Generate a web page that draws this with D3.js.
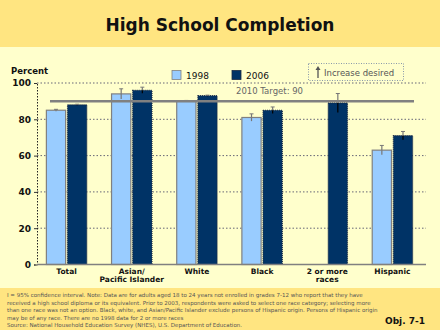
<!DOCTYPE html>
<html><head><meta charset="utf-8">
<script src="https://cdn.jsdelivr.net/npm/d3@7"></script>
<style>body{margin:0;padding:0;background:#FFFFCC}svg{display:block}</style>
</head><body>
<svg id="c" width="440" height="330"></svg>
<script>
const categories = ["Total", "Asian/\nPacific Islander", "White", "Black", "2 or more\nraces", "Hispanic"];
const series = ["1998", "2006"];
const values1998 = [85, 94, 90, 81, null, 63];
const values2006 = [88, 96, 93, 85, 89, 71];
const ci1998 = [0.5, 2.8, 0.4, 2.0, null, 2.6];
const ci2006 = [0.3, 1.7, 0.3, 1.8, 5.2, 2.3];
const yTicks = [0, 20, 40, 60, 80, 100];
const target = 90;
const footnote = [
  "I = 95% confidence interval. Note: Data are for adults aged 18 to 24 years not enrolled in grades 7-12 who report that they have",
  "received a high school diploma or its equivalent.  Prior to 2003, respondents were asked to select one race category; selecting more",
  "than one race was not an option.  Black, white, and Asian/Pacific Islander exclude persons of Hispanic origin. Persons of Hispanic origin",
  "may be of any race. There are no 1998 data for 2 or more races",
  "Source: National Household Education Survey (NHES), U.S. Department of Education."
];

const svg = d3.select("#c");
const W = 440, H = 330;
const F = "DejaVu Sans, Verdana, sans-serif";
const colors = {"1998": "#99CCFF", "2006": "#003366"};

// backgrounds
svg.append("rect").attr("x",0).attr("y",0).attr("width",W).attr("height",H).attr("fill","#FFFFCC");
svg.append("rect").attr("x",0).attr("y",0).attr("width",W).attr("height",47).attr("fill","#FFE581");
svg.append("rect").attr("x",0).attr("y",288).attr("width",W).attr("height",42).attr("fill","#FFE581");

svg.append("text").attr("x",220).attr("y",30.5).attr("text-anchor","middle")
  .attr("font-family",F).attr("font-weight","bold").attr("font-size",17).attr("fill","#111")
  .text("High School Completion");

const m = {l:37, r:426, t:83, b:264.5};
const y = d3.scaleLinear().domain([0,100]).range([m.b, m.t]);
const x0 = d3.scaleBand().domain(categories).range([m.l-3, m.r-1]).paddingInner(0.38).paddingOuter(0.19);
const x1 = d3.scaleBand().domain(series).range([0, x0.bandwidth()]).paddingInner(0.09);

// gridlines
const g = svg.append("g");
g.selectAll("line.grid").data(yTicks.filter(d=>d>0)).enter().append("line")
  .attr("x1",m.l).attr("x2",m.r).attr("y1",d=>y(d)).attr("y2",d=>y(d))
  .attr("stroke","#667").attr("stroke-width",1).attr("stroke-dasharray","1.5,2");

// y axis
const yAxis = d3.axisLeft(y).tickValues(yTicks).tickSize(3).tickPadding(3);
const ya = svg.append("g").attr("transform",`translate(${m.l},0)`).call(yAxis);
ya.select(".domain").attr("stroke","#222").attr("stroke-dasharray","1.5,1.5");
ya.selectAll(".tick line").attr("stroke","#333");
ya.selectAll("text").attr("font-family",F).attr("font-weight","bold").attr("font-size",9).attr("fill","#111");
svg.append("text").attr("x",11).attr("y",74).attr("font-family",F).attr("font-weight","bold")
  .attr("font-size",8.5).attr("fill","#111").text("Percent");

// bars
const rows = categories.map((c,i)=>({c, vals:[
  {s:"1998", v:values1998[i], e:ci1998[i]},
  {s:"2006", v:values2006[i], e:ci2006[i]}
]}));
const grp = svg.selectAll("g.grp").data(rows).enter().append("g")
  .attr("transform",d=>`translate(${x0(d.c)},0)`);
const bars = grp.selectAll("g.b").data(d=>d.vals.filter(v=>v.v!=null)).enter().append("g");
bars.append("rect").attr("x",d=>x1(d.s)).attr("width",x1.bandwidth())
  .attr("y",d=>y(d.v)).attr("height",d=>y(0)-y(d.v))
  .attr("fill",d=>colors[d.s])
  .attr("stroke",d=>d.s==="1998"?"#808080":"#1a2a44").attr("stroke-width",1.2)
  .attr("stroke-dasharray",d=>d.s==="1998"?null:"1,1");
// error bars
bars.append("line").attr("x1",d=>x1(d.s)+x1.bandwidth()/2).attr("x2",d=>x1(d.s)+x1.bandwidth()/2)
  .attr("y1",d=>y(d.v+d.e)).attr("y2",d=>y(d.v)).attr("stroke","#777").attr("stroke-width",1.2);
bars.append("line").attr("x1",d=>x1(d.s)+x1.bandwidth()/2).attr("x2",d=>x1(d.s)+x1.bandwidth()/2)
  .attr("y1",d=>y(d.v)).attr("y2",d=>y(d.v-d.e)).attr("stroke",d=>d.s==="1998"?"#777":"#000").attr("stroke-width",1.2);
bars.append("line").attr("x1",d=>x1(d.s)+x1.bandwidth()/2-2).attr("x2",d=>x1(d.s)+x1.bandwidth()/2+2)
  .attr("y1",d=>y(d.v+d.e)).attr("y2",d=>y(d.v+d.e)).attr("stroke","#777").attr("stroke-width",1);

// baseline
svg.append("line").attr("x1",m.l).attr("x2",m.r).attr("y1",y(0)).attr("y2",y(0)).attr("stroke","#808080").attr("stroke-width",1.5);

// target line
svg.append("line").attr("x1",50).attr("x2",414).attr("y1",y(target)).attr("y2",y(target))
  .attr("stroke","#808080").attr("stroke-width",2.5);
svg.append("text").attr("x",236).attr("y",y(target)-7).attr("font-family",F).attr("font-size",8.5)
  .attr("fill","#666").text("2010 Target: " + target);

// category labels
grp.each(function(d){
  const lines = d.c.split("\n");
  const t = d3.select(this).append("text").attr("text-anchor","middle")
    .attr("font-family",F).attr("font-weight","bold").attr("font-size",7.5).attr("fill","#111");
  lines.forEach((ln,i)=>t.append("tspan").attr("x",x0.bandwidth()/2).attr("y",274 + i*7.5).text(ln));
});

// legend
series.forEach((s,i)=>{
  const lx = [172, 232][i];
  svg.append("rect").attr("x",lx).attr("y",70.5).attr("width",9).attr("height",9)
    .attr("fill",colors[s]).attr("stroke",i===0?"#808080":"#1a2a44").attr("stroke-width",0.8);
  svg.append("text").attr("x",lx+14).attr("y",79).attr("font-family",F).attr("font-size",9).attr("fill","#111").text(s);
});
// increase desired box
svg.append("rect").attr("x",308.5).attr("y",63.5).attr("width",95).attr("height",17)
  .attr("fill","none").attr("stroke","#8899aa").attr("stroke-dasharray","1,1.5");
svg.append("line").attr("x1",318).attr("x2",318).attr("y1",68).attr("y2",78).attr("stroke","#555").attr("stroke-width",1.3);
svg.append("path").attr("d","M315.5,70 L318,66 L320.5,70 Z").attr("fill","#555");
svg.append("text").attr("x",324).attr("y",75.5).attr("font-family",F).attr("font-size",8.5).attr("fill","#555").text("Increase desired");

// footnote
footnote.forEach((ln,i)=>{
  svg.append("text").attr("x",7).attr("y",297 + i*7.6).attr("font-family",F).attr("font-size",5.5)
    .attr("fill","#555").text(ln);
});
svg.append("text").attr("x",425).attr("y",324).attr("text-anchor","end").attr("font-family",F)
  .attr("font-weight","bold").attr("font-size",9).attr("fill","#111").text("Obj. 7-1");
</script>
</body></html>
